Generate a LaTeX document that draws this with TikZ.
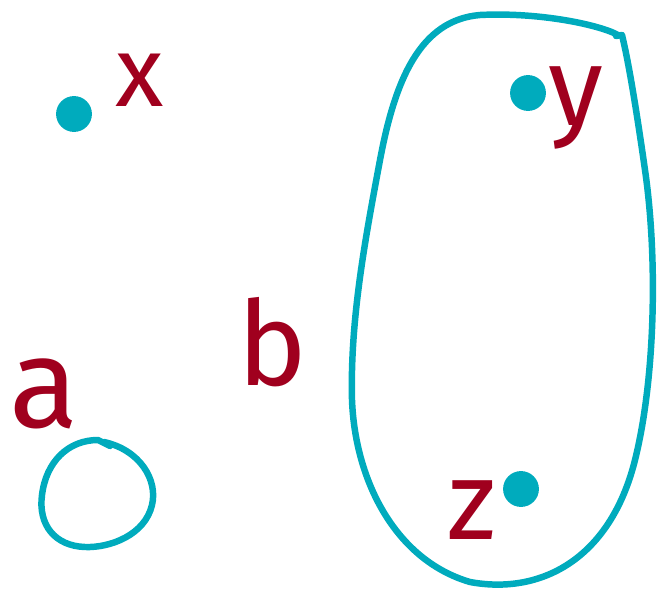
\documentclass[tikz,border=0pt]{standalone}
\usepackage{fontspec}
\setmainfont{Fira Sans}
\usetikzlibrary{calc, positioning}
\definecolor{teal}{HTML}{00ABBD}
\definecolor{wine}{HTML}{A0001E}

\tikzset{
  pt/.style={circle, fill=teal, inner sep=0pt, minimum size=36},
  lbl/.style={text=wine, font=\fontsize{112}{112}\selectfont, inner sep=0pt},
  outline/.style={draw=teal, line width=6.5, line cap=round, line join=round}
}

\begin{document}
\begin{tikzpicture}[x=1bp, y=-1bp]
  \useasboundingbox (0,0) rectangle (657,592);

  % points
  \node[pt] (px) at (74,114) {};
  \node[pt] (py) at (528,93) {};
  \node[pt] (pz) at (521,489) {};

  % labels
  \node[lbl, font=\fontsize{100}{100}\selectfont] (lx) at (140,80) {x};
  \node[lbl] (ly) at (576,108) {y};
  \node[lbl] (lz) at (472,510) {z};
  \node[lbl, font=\fontsize{118}{118}\selectfont] (lb) at (272,342) {b};
  \node[lbl, font=\fontsize{128}{128}\selectfont] (la) at (44,394) {a};

  % set a
  \draw[outline] (104,442) .. controls (140,450) and (158,480) .. (152,505)
    .. controls (145,535) and (110,548) .. (85,547)
    .. controls (55,546) and (38,525) .. (42,495)
    .. controls (46,462) and (68,440) .. (98,440)
    -- (110,446);

  % set b
  \draw[outline] (618,35) .. controls (600,25) and (540,12) .. (480,15)
    .. controls (420,20) and (395,80) .. (380,160)
    .. controls (365,240) and (350,320) .. (352,400)
    .. controls (355,480) and (395,560) .. (470,582)
    .. controls (540,595) and (610,560) .. (635,460)
    .. controls (655,380) and (658,260) .. (645,170)
    .. controls (635,100) and (628,60) .. (622,35)
    -- (616,36);
\end{tikzpicture}
\end{document}
